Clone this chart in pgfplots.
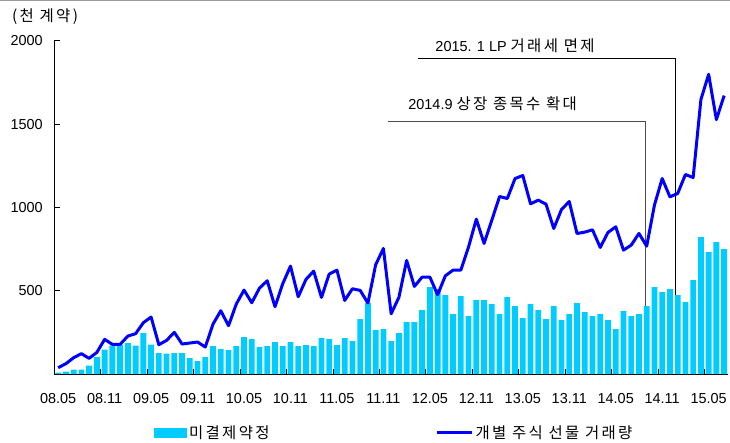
\documentclass[border=0pt]{standalone}
\usepackage{fontspec}
\setmainfont{Liberation Sans}
\newfontfamily\kr[LetterSpace=15]{Noto Sans CJK KR}
\usepackage{pgfplots}
\pgfplotsset{compat=1.18}
\definecolor{barcyan}{RGB}{0,204,255}
\definecolor{lineblue}{RGB}{0,0,255}
\pgfplotstableread{
i bar line
0 8 38
1 14 62
2 26 98
3 26 122
4 50 94
5 102 130
6 146 208
7 170 178
8 176 178
9 186 228
10 170 242
11 246 308
12 176 342
13 126 176
14 122 202
15 126 250
16 126 180
17 96 186
18 78 192
19 102 162
20 168 300
21 150 380
22 144 290
23 168 420
24 222 504
25 210 428
26 162 516
27 168 560
28 192 404
29 168 542
30 192 648
31 168 464
32 174 568
33 168 618
34 216 460
35 210 600
36 174 624
37 216 442
38 198 512
39 330 502
40 426 426
41 264 656
42 270 754
43 198 362
44 246 460
45 312 682
46 312 526
47 384 582
48 522 582
49 510 476
50 474 590
51 360 624
52 468 624
53 348 764
54 444 930
55 444 784
56 420 924
57 360 1066
58 462 1054
59 408 1174
60 336 1192
61 420 1022
62 384 1044
63 330 1020
64 408 874
65 324 988
66 360 1036
67 426 844
68 372 852
69 348 866
70 360 760
71 324 850
72 270 884
73 378 744
74 348 774
75 360 844
76 408 768
77 522 1014
78 492 1174
79 510 1064
80 474 1084
81 432 1198
82 564 1180
83 822 1648
84 732 1800
85 792 1528
86 750 1672
}\datatable
\begin{document}
\begin{tikzpicture}
\useasboundingbox (0,0) rectangle (730bp,443bp);
\draw[gray!80, line width=1bp] (0,442.5bp) -- (730bp,442.5bp);
\node[anchor=west, inner sep=0pt, font=\kr\fontsize{15.5}{17}\selectfont] at (12bp,426bp) {(천 계약)};
\begin{axis}[
  at={(54.3bp,69bp)}, anchor=south west,
  scale only axis, width=673.7bp, height=333bp,
  xmin=-0.5, xmax=86.5, ymin=0, ymax=2000,
  axis lines*=left,
  axis line style={black, line width=1bp},
  clip=false,
  tick align=inside,
  ytick={500,1000,1500,2000},
  major tick length=6bp,
  minor tick length=5bp,
  xtick={0,6,...,84},
  xticklabels={08.05,08.11,09.05,09.11,10.05,10.11,11.05,11.11,12.05,12.11,13.05,13.11,14.05,14.11,15.05},
  minor xtick={5.5,11.5,...,83.5},
  every major x tick/.append style={draw=none},
  every tick/.append style={black, line width=1bp},
  /pgf/number format/assume math mode=true,
  /pgf/number format/set thousands separator={},
  yticklabel style={font=\fontsize{14.5}{16}\selectfont, xshift=-8bp},
  xticklabel style={font=\fontsize{14.5}{16}\selectfont, yshift=-16bp},
  legend columns=2,
  legend style={draw=none, fill=none, inner sep=0pt, at={(0.148,-0.176)}, anchor=west,
    font=\kr\fontsize{15.5}{17}\selectfont,
    /tikz/every even column/.append style={column sep=164bp},
    nodes={inner sep=2bp}},
]
\draw[black!70, line width=1bp] (axis cs:42.6,1514) -- (axis cs:75.8,1514) -- (axis cs:75.8,0);
\draw[black, line width=1bp] (axis cs:46.5,1894) -- (axis cs:79.7,1894) -- (axis cs:79.7,0);
\node[anchor=west, inner sep=0pt, font=\fontsize{14.5}{16}\selectfont] at (axis cs:45.2,1626) {2014.9 {\kr\fontsize{15.5}{17}\selectfont 상장 종목수 확대}};
\node[anchor=west, inner sep=0pt, font=\fontsize{14.5}{16}\selectfont] at (axis cs:48.7,1970) {2015. 1 LP {\kr\fontsize{15.5}{17}\selectfont 거래세 면제}};
\addplot[ybar, bar width=5.8bp, fill=barcyan, draw=none,
  legend image code/.code={\fill[barcyan] (0bp,-5bp) rectangle (33bp,5bp);}]
  table[x=i, y=bar] {\datatable};
\addlegendentry{미결제약정}
\addplot[lineblue, line width=3bp, line join=round, mark=none,
  legend image code/.code={\draw[lineblue, line width=3bp] (0bp,0bp) -- (35bp,0bp);}]
  table[x=i, y=line] {\datatable};
\addlegendentry{개별 주식 선물 거래량}
\end{axis}
\end{tikzpicture}
\end{document}
